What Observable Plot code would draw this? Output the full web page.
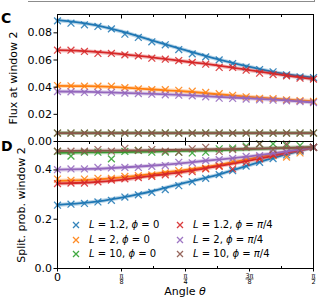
<!DOCTYPE html>
<html><head><meta charset="utf-8">
<script src="https://cdn.jsdelivr.net/npm/d3@7"></script>
<script src="https://cdn.jsdelivr.net/npm/@observablehq/plot@0.6"></script>
<style>
body{margin:0;background:#fff;font-family:"DejaVu Sans",sans-serif;}
#wrap{position:relative;width:320px;height:308px;overflow:hidden;background:#fff;}
#wrap svg{position:absolute;left:0;top:0;}
.ov{position:absolute;white-space:nowrap;color:#000;}
.leg{position:absolute;font-size:10px;line-height:12px;white-space:nowrap;}
.leg svg{position:static !important;vertical-align:middle;margin-right:9px;}
.numer text{text-decoration:underline;text-decoration-thickness:1px;text-underline-offset:1px;}
</style></head><body><div id="wrap"></div>
<script>
// ---------- data ----------
const seriesNames = ["L = 1.2, ϕ = 0","L = 2, ϕ = 0","L = 10, ϕ = 0","L = 1.2, ϕ = π/4","L = 2, ϕ = π/4","L = 10, ϕ = π/4"];
const seriesColors = ["#1f77b4","#ff7f0e","#2ca02c","#d62728","#9467bd","#8c564b"];
const thetaMarkers = d3.range(20).map(i => i * (Math.PI / 2) / 19);   // 20 sampled angles
const thetaFit = d3.range(9).map(k => k * Math.PI / 16);             // fit curve read at π/16 steps
const xTickValues = [0, Math.PI/8, Math.PI/4, 3*Math.PI/8, Math.PI/2];
const xTickLabels = ["0","π/8","π/4","3π/8","π/2"];
const xMinorTicks = [Math.PI/16, 3*Math.PI/16, 5*Math.PI/16, 7*Math.PI/16];
const fluxTicks = [0,0.02,0.04,0.06,0.08];
const splitTicks = [0,0.2,0.4];

// Panel C: flux at window 2 (markers)
const fluxBlue   = [0.0888,0.0871,0.0859,0.0847,0.0829,0.0790,0.0766,0.0734,0.0712,0.0677,0.0645,0.0623,0.0601,0.0574,0.0548,0.0530,0.0513,0.0491,0.0476,0.0471];
const fluxOrange = [0.0412,0.0410,0.0407,0.0407,0.0407,0.0396,0.0387,0.0382,0.0382,0.0377,0.0370,0.0361,0.0352,0.0340,0.0329,0.0318,0.0315,0.0307,0.0301,0.0295];
const fluxGreen  = [0.0062,0.0062,0.0061,0.0062,0.0062,0.0062,0.0061,0.0062,0.0063,0.0062,0.0062,0.0063,0.0062,0.0062,0.0062,0.0062,0.0061,0.0062,0.0062,0.0062];
const fluxRed    = [0.0672,0.0672,0.0663,0.0648,0.0648,0.0638,0.0631,0.0613,0.0606,0.0596,0.0582,0.0569,0.0545,0.0545,0.0525,0.0503,0.0493,0.0483,0.0466,0.0459];
const fluxPurple = [0.0368,0.0366,0.0361,0.0361,0.0361,0.0356,0.0353,0.0348,0.0344,0.0341,0.0336,0.0329,0.0319,0.0317,0.0312,0.0307,0.0304,0.0299,0.0294,0.0287];
const fluxBrown  = [0.0062,0.0062,0.0062,0.0062,0.0062,0.0062,0.0062,0.0062,0.0062,0.0062,0.0062,0.0062,0.0062,0.0062,0.0062,0.0062,0.0062,0.0062,0.0062,0.0062];
// Panel C: fit curves
const fluxFitBlue   = [0.0893,0.0864,0.0810,0.0741,0.0672,0.0606,0.0550,0.0501,0.0471];
const fluxFitOrange = [0.0410,0.0407,0.0398,0.0383,0.0368,0.0348,0.0329,0.0312,0.0297];
const fluxFitGreen  = [0.0062,0.0062,0.0062,0.0062,0.0062,0.0062,0.0062,0.0062,0.0062];
const fluxFitRed    = [0.0672,0.0663,0.0643,0.0618,0.0589,0.0560,0.0525,0.0491,0.0459];
const fluxFitPurple = [0.0368,0.0366,0.0358,0.0351,0.0341,0.0329,0.0317,0.0304,0.0287];
const fluxFitBrown  = [0.0062,0.0062,0.0062,0.0062,0.0062,0.0062,0.0062,0.0062,0.0062];

// Panel D: splitting probability window 2 (markers)
const splitBlue   = [0.257,0.261,0.264,0.270,0.277,0.290,0.299,0.309,0.320,0.336,0.352,0.366,0.381,0.397,0.416,0.431,0.446,0.461,0.476,0.492];
const splitOrange = [0.363,0.358,0.363,0.366,0.366,0.374,0.377,0.380,0.388,0.397,0.400,0.407,0.418,0.434,0.442,0.452,0.458,0.452,0.469,0.492];
const splitGreen  = [0.475,0.456,0.472,0.472,0.445,0.475,0.479,0.472,0.472,0.472,0.469,0.472,0.486,0.489,0.497,0.506,0.506,0.499,0.499,0.492];
const splitRed    = [0.345,0.347,0.347,0.352,0.359,0.364,0.369,0.374,0.380,0.384,0.393,0.404,0.415,0.404,0.431,0.445,0.461,0.472,0.483,0.492];
const splitPurple = [0.401,0.404,0.404,0.410,0.408,0.410,0.410,0.415,0.418,0.431,0.429,0.438,0.442,0.447,0.455,0.458,0.469,0.472,0.483,0.492];
const splitBrown  = [0.476,0.476,0.476,0.483,0.476,0.488,0.479,0.483,0.476,0.472,0.486,0.492,0.475,0.483,0.492,0.506,0.483,0.506,0.479,0.492];
// Panel D: fit curves
const splitFitBlue   = [0.258,0.268,0.288,0.315,0.349,0.380,0.420,0.458,0.492];
const splitFitOrange = [0.356,0.360,0.370,0.384,0.400,0.420,0.445,0.469,0.492];
const splitFitGreen  = [0.469,0.471,0.472,0.475,0.478,0.480,0.484,0.489,0.492];
const splitFitRed    = [0.345,0.349,0.360,0.377,0.393,0.415,0.438,0.465,0.492];
const splitFitPurple = [0.401,0.404,0.410,0.418,0.429,0.442,0.455,0.472,0.492];
const splitFitBrown  = [0.477,0.478,0.479,0.480,0.482,0.484,0.486,0.489,0.492];

// ---------- tables ----------
function table(thetas, arrays){
  const rows=[];
  arrays.forEach((arr,s)=>arr.forEach((v,i)=>rows.push({theta:thetas[i], value:v, series:seriesNames[s]})));
  return rows;
}
const fluxPts  = table(thetaMarkers,[fluxBlue,fluxOrange,fluxGreen,fluxRed,fluxPurple,fluxBrown]);
const fluxFit  = table(thetaFit,[fluxFitBlue,fluxFitOrange,fluxFitGreen,fluxFitRed,fluxFitPurple,fluxFitBrown]);
const splitPts = table(thetaMarkers,[splitBlue,splitOrange,splitGreen,splitRed,splitPurple,splitBrown]);
const splitFit = table(thetaFit,[splitFitBlue,splitFitOrange,splitFitGreen,splitFitRed,splitFitPurple,splitFitBrown]);

const W=320,H=308;
const color = {domain:seriesNames, range:seriesColors};
const common = {width:W, height:H, marginLeft:57, marginRight:7,
  x:{domain:[0,Math.PI/2]}, color,
  style:{background:"transparent", fontFamily:"DejaVu Sans, sans-serif", fontSize:"11px", color:"#000", overflow:"visible"}};
const blank = () => "";
function dataMarks(pts, fit){
  const marks=[];
  seriesNames.forEach(s=>{
    marks.push(Plot.line(fit.filter(d=>d.series===s),{x:"theta",y:"value",stroke:"series",strokeWidth:4,strokeOpacity:0.3,curve:"natural"}));
    marks.push(Plot.dot(pts.filter(d=>d.series===s),{x:"theta",y:"value",stroke:"series",symbol:"times",r:3.2,strokeWidth:1.3,strokeOpacity:0.85}));
    marks.push(Plot.line(fit.filter(d=>d.series===s),{x:"theta",y:"value",stroke:"series",strokeWidth:1.8,curve:"natural"}));
  });
  return marks;
}
const labelFor = d => xTickLabels[xTickValues.findIndex(v=>Math.abs(v-d)<1e-9)];
const numer = d => labelFor(d).split("/")[0];
const denom = d => labelFor(d).split("/")[1];

const plotC = Plot.plot({...common, marginTop:14, marginBottom:H-141, y:{domain:[0,0.0935]},
  marks:[
    ...dataMarks(fluxPts, fluxFit),
    Plot.frame({stroke:"#000", strokeWidth:1}),
    Plot.axisY({ticks:fluxTicks, tickFormat:d3.format(".2f"), tickSize:3.5, tickPadding:2, label:"Flux at window 2", labelAnchor:"center", labelArrow:"none", labelOffset:48}),
    Plot.axisX({anchor:"top", ticks:xTickValues, tickSize:-3.5, tickFormat:blank, label:null}),
    Plot.axisX({anchor:"top", ticks:xMinorTicks, tickSize:-2, tickFormat:blank, label:null}),
    Plot.axisX({anchor:"bottom", ticks:xTickValues, tickSize:-3.5, tickFormat:blank, label:null})
  ]});

const fracTicks = xTickValues.slice(1);
const plotD = Plot.plot({...common, marginTop:141, marginBottom:H-268, y:{domain:[0,0.5155]},
  marks:[
    ...dataMarks(splitPts, splitFit),
    Plot.frame({stroke:"#000", strokeWidth:1}),
    Plot.axisY({ticks:splitTicks, tickFormat:d3.format(".1f"), tickSize:3.5, tickPadding:2, label:"Split. prob. window 2", labelAnchor:"center", labelArrow:"none", labelOffset:40}),
    Plot.axisX({anchor:"top", ticks:xTickValues, tickSize:-3.5, tickFormat:blank, label:null}),
    Plot.axisX({anchor:"top", ticks:xMinorTicks, tickSize:-2, tickFormat:blank, label:null}),
    Plot.axisX({anchor:"bottom", ticks:xTickValues.slice(0,1), tickSize:3.5, tickPadding:1, tickFormat:labelFor, label:null}),
    Plot.axisX({anchor:"bottom", ticks:fracTicks, tickSize:3.5, tickPadding:1, tickFormat:numer, fontSize:6.5, label:null, className:"numer"}),
    Plot.axisX({anchor:"bottom", ticks:fracTicks, tickSize:0, tickPadding:11, tickFormat:denom, fontSize:6.5, label:null}),
    Plot.axisX({anchor:"bottom", ticks:xMinorTicks, tickSize:-2, tickFormat:blank, label:null})
  ]});

// fallback: mark the numerator labels for the fraction bar if className was not applied
{
  const groups = plotD.querySelectorAll('g[aria-label="x-axis tick label"]');
  if (!plotD.querySelector(".numer") && groups.length >= 2) groups[1].classList.add("numer");
}

const wrap=document.getElementById("wrap");
wrap.appendChild(plotD);
wrap.appendChild(plotC);

// ---------- overlays: remnant border of the panel above, panel letters, x label, legend ----------
const remnant=document.createElement("div");
remnant.style.cssText="position:absolute;left:28px;top:0;width:286px;height:1px;border-bottom:1.5px solid #8c8c8c;border-right:1.5px solid #8c8c8c;";
wrap.appendChild(remnant);
function addText(html, css){const d=document.createElement("div");d.className="ov";d.innerHTML=html;d.style.cssText+=css;wrap.appendChild(d);return d;}
addText("C","left:1px;top:11px;font-size:14px;font-weight:bold;line-height:14px;");
addText("D","left:1px;top:139px;font-size:14px;font-weight:bold;line-height:14px;");
addText("Angle <i>θ</i>","left:135px;width:100px;text-align:center;top:286px;font-size:11px;line-height:11px;");

function mathLabel(name){
  return name.replace(/^L/,"<i>L</i>").replace("ϕ","<i>ϕ</i>").replace("π","<i>π</i>");
}
const legX=[76,180], legY=[225,239.5,254];
seriesNames.forEach((name,i)=>{
  const col=Math.floor(i/3), row=i%3;
  const d=document.createElement("div");
  d.className="leg";
  d.style.left=(legX[col]-4)+"px";
  d.style.top=(legY[row]-6)+"px";
  const c=seriesColors[i];
  d.innerHTML=`<svg width="8" height="8" viewBox="0 0 8 8"><path d="M1 1L7 7M7 1L1 7" stroke="${c}" stroke-width="1.3" stroke-opacity="0.9"/></svg>`+mathLabel(name);
  wrap.appendChild(d);
});
</script></body></html>
